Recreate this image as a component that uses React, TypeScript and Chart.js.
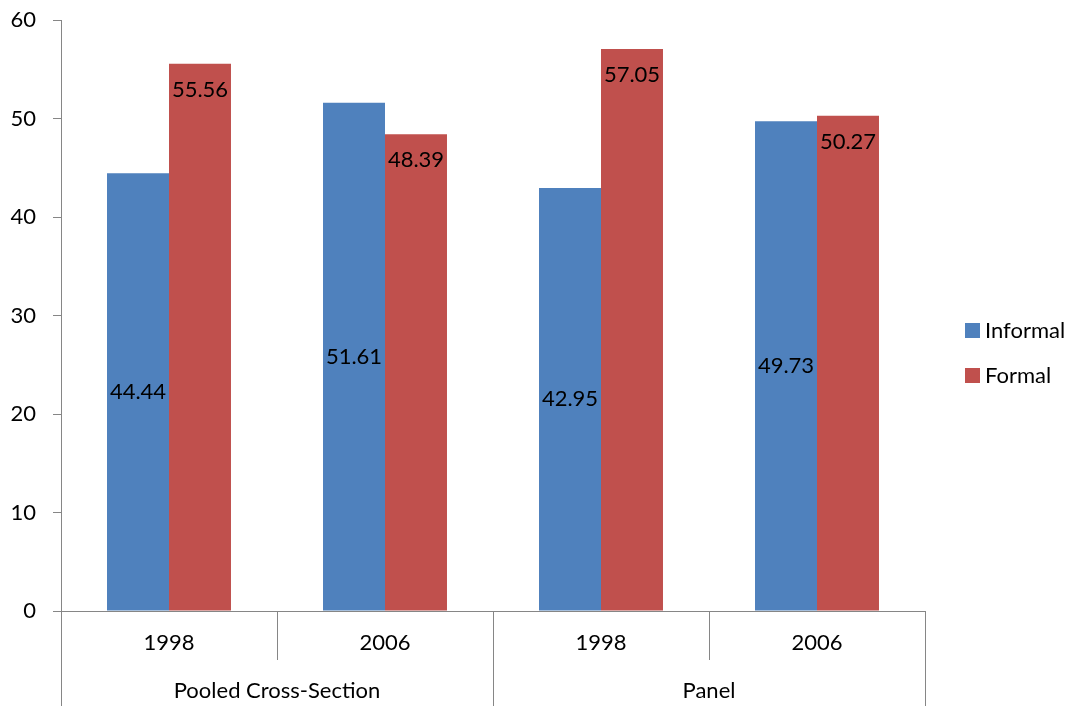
import React, { useEffect, useRef } from 'react';
import { Chart, registerables } from 'chart.js';

Chart.register(...registerables);

const categories = ['1998', '2006', '1998', '2006'];
const groups = ['Pooled Cross-Section', 'Panel'];
const seriesNames = ['Informal', 'Formal'];
const informalValues = [44.44, 51.61, 42.95, 49.73];
const formalValues = [55.56, 48.39, 57.05, 50.27];
const colors = ['#4F81BD', '#C0504D'];
const yMin = 0;
const yMax = 60;
const yStep = 10;

const FONT = 'Lato';
const AXIS = '#868686';

const labelsPlugin = {
  id: 'valueLabels',
  afterDatasetsDraw(chart: any) {
    const ctx = chart.ctx;
    ctx.save();
    ctx.font = `22px ${FONT}`;
    ctx.fillStyle = '#000';
    ctx.textAlign = 'center';
    ctx.textBaseline = 'middle';
    chart.data.datasets.forEach((ds: any, di: number) => {
      const meta = chart.getDatasetMeta(di);
      meta.data.forEach((bar: any, i: number) => {
        const { x, y, base } = bar.getProps(['x', 'y', 'base'], true);
        const ty = di === 0 ? (y + base) / 2 : y + 26;
        ctx.fillText(Number(ds.data[i]).toFixed(2), x, ty);
      });
    });
    ctx.restore();
  },
};

const axisPlugin = {
  id: 'multiLevelAxis',
  afterDraw(chart: any) {
    const ctx = chart.ctx;
    const { left, right, bottom } = chart.chartArea;
    const n = categories.length;
    const w = (right - left) / n;
    ctx.save();
    ctx.strokeStyle = AXIS;
    ctx.lineWidth = 1;
    for (let i = 0; i <= n; i++) {
      const x = Math.round(left + i * w) + 0.5;
      const y2 = i % 2 === 0 ? chart.height : bottom + 49;
      ctx.beginPath();
      ctx.moveTo(x, bottom);
      ctx.lineTo(x, y2);
      ctx.stroke();
    }
    ctx.font = `22px ${FONT}`;
    ctx.fillStyle = '#000';
    ctx.textAlign = 'center';
    ctx.textBaseline = 'middle';
    const per = n / groups.length;
    groups.forEach((g, gi) => {
      const cx = left + (gi * per + per / 2) * w;
      ctx.fillText(g, cx, chart.height - 15);
    });
    // legend
    const lx = right + 40;
    const cy = chart.height / 2;
    chart.data.datasets.forEach((ds: any, di: number) => {
      const yy = cy - 22.5 + di * 45;
      ctx.fillStyle = ds.backgroundColor;
      ctx.fillRect(lx, yy - 7.5, 15, 15);
      ctx.fillStyle = '#000';
      ctx.textAlign = 'left';
      ctx.fillText(ds.label, lx + 20, yy);
    });
    ctx.restore();
  },
};

export default function App() {
  const ref = useRef<HTMLCanvasElement | null>(null);
  useEffect(() => {
    if (!ref.current) return;
    const chart = new Chart(ref.current, {
      type: 'bar',
      data: {
        labels: categories,
        datasets: [
          { label: seriesNames[0], data: informalValues, backgroundColor: colors[0] },
          { label: seriesNames[1], data: formalValues, backgroundColor: colors[1] },
        ],
      },
      options: {
        animation: false,
        responsive: true,
        maintainAspectRatio: false,
        layout: { padding: { left: 0, right: 152, top: 20, bottom: 0 } },
        datasets: { bar: { categoryPercentage: 0.574, barPercentage: 1 } },
        plugins: { legend: { display: false }, tooltip: { enabled: false } },
        scales: {
          x: {
            grid: { display: false, drawTicks: false },
            border: { display: true, color: AXIS, width: 1 },
            ticks: { color: '#000', font: { family: FONT, size: 22 }, padding: 19, maxRotation: 0 },
            afterFit: (s: any) => { s.height = 95; s.paddingLeft = 0; s.paddingRight = 0; },
          },
          y: {
            min: yMin,
            max: yMax,
            grid: { display: true, drawOnChartArea: false, drawTicks: true, tickLength: 8, color: AXIS },
            border: { display: true, color: AXIS, width: 1 },
            ticks: { stepSize: yStep, color: '#000', font: { family: FONT, size: 22 }, padding: 17 },
            afterFit: (s: any) => { s.width = 61; s.paddingTop = 0; s.paddingBottom = 0; },
          },
        },
      },
      plugins: [labelsPlugin, axisPlugin],
    });
    return () => chart.destroy();
  }, []);
  return (
    <div style={{ position: 'fixed', left: 0, top: 0, width: 1077, height: 706, background: '#fff' }}>
      <canvas ref={ref} />
    </div>
  );
}
